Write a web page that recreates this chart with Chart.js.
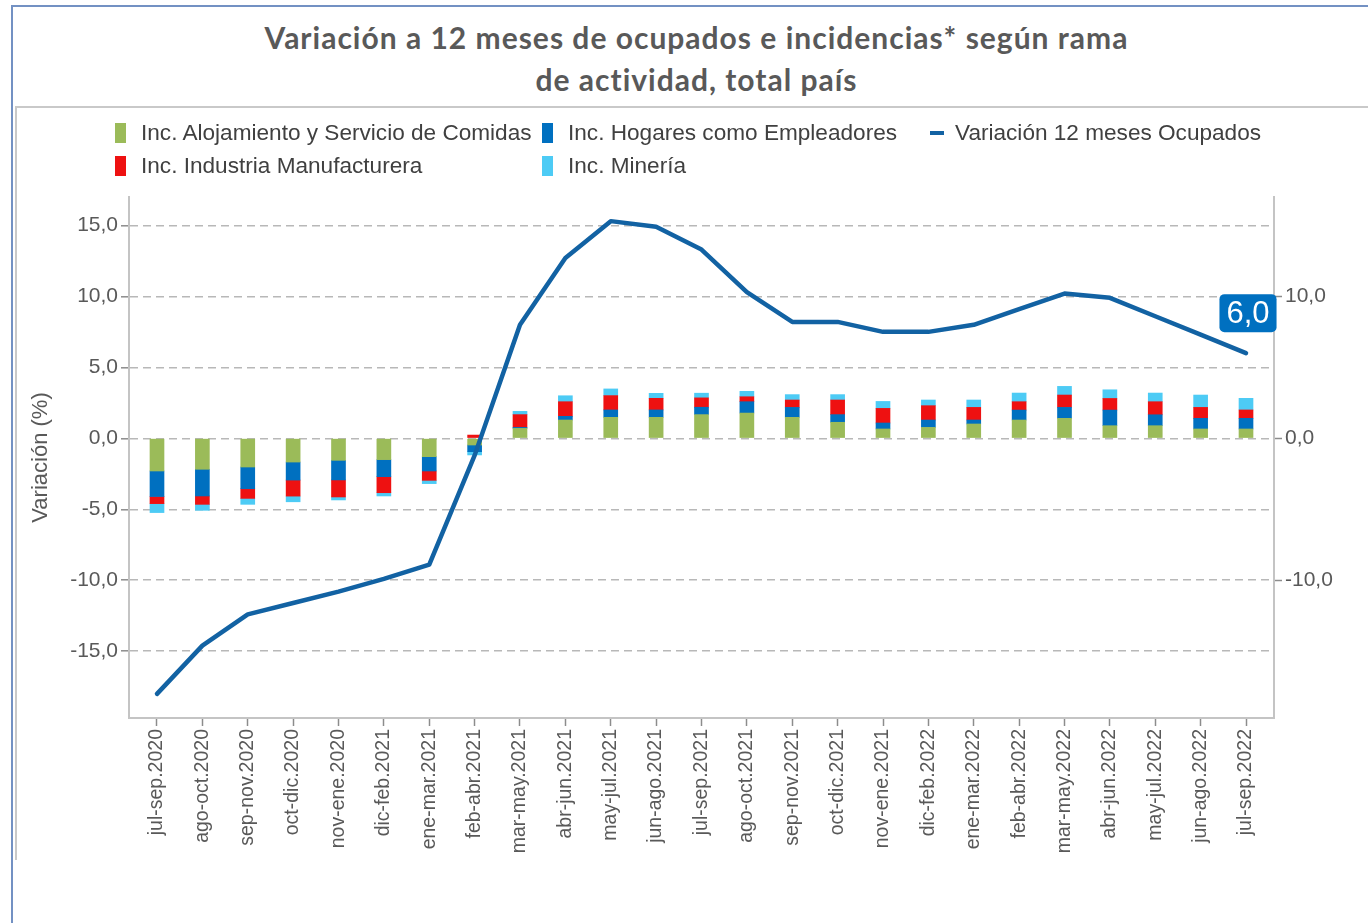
<!DOCTYPE html>
<html><head><meta charset="utf-8">
<script src="https://cdn.jsdelivr.net/npm/chart.js@4.4.0/dist/chart.umd.min.js"></script>
<style>
html,body{margin:0;padding:0;background:#fff;width:1368px;height:923px;overflow:hidden;}
#outer{position:absolute;left:11px;top:5px;width:1400px;height:1000px;border-left:2px solid #7391c3;border-top:2px solid #7391c3;}
#inner{position:absolute;left:15px;top:106px;width:1400px;height:752px;border-left:2px solid #c9c9c9;border-top:2px solid #c9c9c9;}
#title{position:absolute;left:12px;width:1369px;top:16px;text-align:center;font-family:Lato,"Open Sans",sans-serif;font-weight:bold;font-size:30px;letter-spacing:1px;color:#595959;line-height:42px;}
canvas{position:absolute;left:0;top:0}
.lt{position:absolute;font-family:"Liberation Sans",Arial,sans-serif;font-size:22.6px;color:#404040;white-space:nowrap;line-height:24px;}
.lb{position:absolute;}
</style>
</head><body>
<div id="outer"></div>
<div id="inner"></div>
<div id="title">Variación a 12 meses de ocupados e incidencias* según rama<br>de actividad, total país</div>
<canvas id="c" width="1368" height="923"></canvas>
<div id="legend"></div>
<script>
const labels = ["jul-sep.2020","ago-oct.2020","sep-nov.2020","oct-dic.2020","nov-ene.2020","dic-feb.2021","ene-mar.2021","feb-abr.2021","mar-may.2021","abr-jun.2021","may-jul.2021","jun-ago.2021","jul-sep.2021","ago-oct.2021","sep-nov.2021","oct-dic.2021","nov-ene.2021","dic-feb.2022","ene-mar.2022","feb-abr.2022","mar-may.2022","abr-jun.2022","may-jul.2022","jun-ago.2022","jul-sep.2022"];
const alojamiento = [-2.30,-2.18,-2.02,-1.67,-1.55,-1.50,-1.29,-0.47,0.70,1.29,1.48,1.48,1.67,1.78,1.48,1.13,0.66,0.77,1.01,1.29,1.41,0.89,0.89,0.66,0.66];
const hogares = [-1.80,-1.88,-1.53,-1.27,-1.38,-1.20,-1.01,-0.47,0.07,0.26,0.52,0.52,0.52,0.80,0.70,0.54,0.42,0.52,0.28,0.70,0.77,1.10,0.77,0.75,0.75];
const industria = [-0.50,-0.59,-0.68,-1.13,-1.20,-1.13,-0.66,0.23,0.90,1.03,1.01,0.82,0.66,0.35,0.52,1.03,1.03,1.01,0.89,0.59,0.87,0.82,0.92,0.77,0.59];
const mineria = [-0.63,-0.42,-0.42,-0.40,-0.21,-0.23,-0.23,-0.23,0.23,0.42,0.47,0.35,0.33,0.38,0.38,0.38,0.49,0.40,0.52,0.61,0.61,0.61,0.61,0.87,0.82];
const ocupados = [-18.0,-14.6,-12.4,-11.6,-10.8,-9.9,-8.9,-1.2,8.0,12.7,15.3,14.9,13.3,10.3,8.2,8.2,7.5,7.5,8.0,9.1,10.2,9.9,8.6,7.3,6.0];
const leftTicks = [-15,-10,-5,0,5,10,15];
const rightTicks = [-10,0,10];

const seriesNames = ["Inc. Alojamiento y Servicio de Comidas","Inc. Hogares como Empleadores","Inc. Industria Manufacturera","Inc. Minería","Variación 12 meses Ocupados"];
const colors = ["#9bbb59","#0070c0","#ee1111","#4dcbf5","#1262a3"];

const fmt = v => v.toFixed(1).replace('.', ',');
const pts = arr => arr.map((v,i)=>({x:i,y:v}));
const FONT = '"Liberation Sans", Arial, sans-serif';

// HTML legend
const legendPos = [
  {i:0,x:115,y:133},{i:1,x:542,y:133},{i:4,x:930,y:133},
  {i:2,x:115,y:166},{i:3,x:542,y:166}
];
const lg = document.getElementById('legend');
legendPos.forEach(p=>{
  const b = document.createElement('div');
  b.className='lb';
  if (p.i===4){ b.style.cssText=`left:${p.x}px;top:${p.y-2}px;width:14px;height:4px;background:${colors[p.i]}`; }
  else { b.style.cssText=`left:${p.x}px;top:${p.y-10}px;width:11px;height:20px;background:${colors[p.i]}`; }
  lg.appendChild(b);
  const t = document.createElement('div');
  t.className='lt';
  t.textContent = seriesNames[p.i];
  t.style.left = (p.i===4 ? p.x+25 : p.x+26)+'px';
  t.style.top = (p.y-12)+'px';
  lg.appendChild(t);
});

const lastLabel = {
  id:'lastLabel',
  afterDatasetsDraw(chart){
    const meta = chart.getDatasetMeta(0);
    const pt = meta.data[meta.data.length-1];
    const ctx = chart.ctx;
    const txt = fmt(ocupados[ocupados.length-1]);
    ctx.save();
    ctx.font = '31px ' + FONT;
    const w = ctx.measureText(txt).width + 14, h = 38;
    const cx = pt.x + 2, cy = pt.y - 40;
    ctx.fillStyle = '#0070c0';
    ctx.beginPath();
    ctx.roundRect(cx - w/2, cy - h/2, w, h, 5);
    ctx.fill();
    ctx.fillStyle = '#ffffff';
    ctx.textAlign = 'center';
    ctx.textBaseline = 'middle';
    ctx.fillText(txt, cx, cy + 1);
    ctx.restore();
  }
};

const barDs = (idx, arr) => ({
  type:'bar', label:seriesNames[idx], data:pts(arr), backgroundColor:colors[idx],
  barThickness:14, stack:'s', yAxisID:'y', order:1, borderWidth:0
});

new Chart(document.getElementById('c'), {
  data:{
    datasets:[
      {type:'line', label:seriesNames[4], data:pts(ocupados), borderColor:colors[4], borderWidth:4.5,
       pointRadius:0, tension:0, borderJoinStyle:'round', borderCapStyle:'round', yAxisID:'y', order:0},
      barDs(0, alojamiento), barDs(1, hogares), barDs(2, industria), barDs(3, mineria)
    ]
  },
  options:{
    responsive:false, animation:false, devicePixelRatio:1,
    layout:{padding:{top:197,left:0,right:0,bottom:0}},
    plugins:{legend:{display:false}, title:{display:false}, tooltip:{enabled:false}},
    scales:{
      x:{
        type:'linear', min:-0.617, max:24.617, offset:false,
        afterBuildTicks(s){ s.ticks = labels.map((_,i)=>({value:i})); },
        afterFit(s){ s.height = 205; },
        ticks:{autoSkip:false, maxRotation:90, minRotation:90, color:'#595959',
          font:{family:FONT, size:19.5}, callback:(v)=>labels[v] ?? ''},
        grid:{offset:false, drawOnChartArea:false, drawTicks:true, tickLength:8, tickColor:'#8c8c8c', tickWidth:1.5},
        border:{display:true, color:'#c4c4c4', width:2}
      },
      y:{
        position:'left', min:-19.7, max:17.0,
        afterBuildTicks(s){ s.ticks = leftTicks.map(v=>({value:v})); },
        afterFit(s){ s.width = 129; },
        ticks:{color:'#595959', font:{family:FONT, size:21}, padding:3, callback:v=>fmt(v)},
        grid:{color:'#b8b8b8', lineWidth:1.6, tickLength:8, tickColor:'#8c8c8c', tickWidth:1.5, tickBorderDash:[]},
        border:{display:true, color:'#c4c4c4', width:2, dash:[8,5]},
        title:{display:true, text:'Variación (%)', color:'#595959', font:{family:FONT, size:22}, padding:{top:28,bottom:0}}
      },
      y2:{
        position:'right', min:-19.7, max:17.0,
        afterBuildTicks(s){ s.ticks = rightTicks.map(v=>({value:v})); },
        afterFit(s){ s.width = 94; },
        ticks:{color:'#595959', font:{family:FONT, size:21}, padding:3, callback:v=>fmt(v)},
        grid:{drawOnChartArea:false, tickLength:8, tickColor:'#8c8c8c', tickWidth:1.5},
        border:{display:true, color:'#c4c4c4', width:2}
      }
    }
  },
  plugins:[lastLabel]
});
</script>
</body></html>
